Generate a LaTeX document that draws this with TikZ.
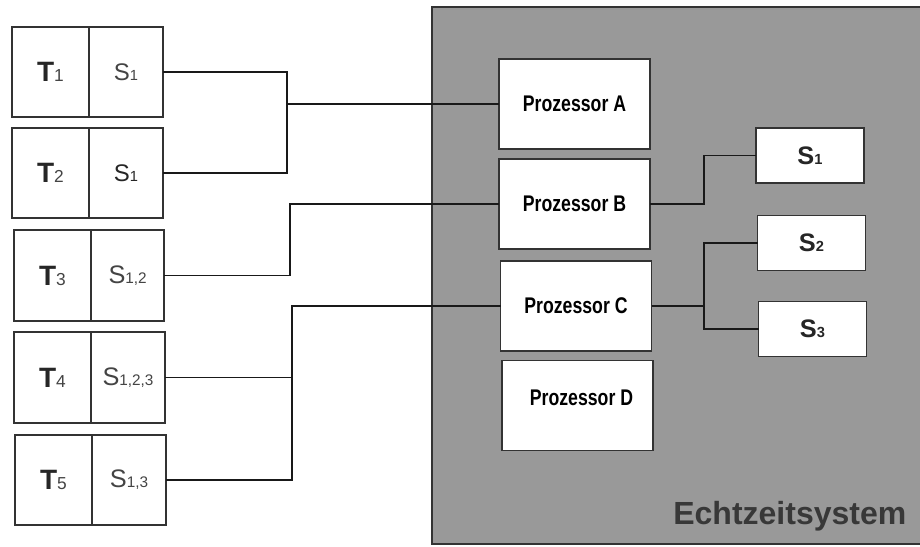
\documentclass[tikz,border=0pt]{standalone}
\usepackage{fontspec}
\setmainfont{Liberation Sans}
\newfontfamily\narrowfont[FakeStretch=0.78]{Liberation Sans}
\usetikzlibrary{positioning}

\definecolor{boxline}{HTML}{333333}
\definecolor{sysgray}{HTML}{999999}
\definecolor{labgray}{HTML}{444444}
\definecolor{sysText}{HTML}{383838}

% labels: task T_i, needed sensors S_{...}
\newcommand{\tsk}[1]{{\fontsize{21}{21}\selectfont\bfseries\color{black!85}T}{\fontsize{13}{13}\selectfont\color{labgray}#1}}
\newcommand{\req}[1]{{\fontsize{19}{19}\selectfont S}{\fontsize{11.5}{11.5}\selectfont #1}}
\newcommand{\reqs}[1]{{\fontsize{18}{18}\selectfont S}{\fontsize{11}{11}\selectfont #1}}
\newcommand{\sens}[1]{{\fontsize{19}{19}\selectfont\bfseries S}{\fontsize{11}{11}\selectfont\bfseries #1}}

\tikzset{
  cell/.style={draw=boxline, line width=1.4pt, fill=white, outer sep=0pt, inner sep=0pt,
    minimum width=57.75pt, minimum height=68pt, text=labgray},
  procbox/.style={draw=boxline, line width=1.4pt, fill=white, outer sep=0pt,
    minimum width=113.25pt, minimum height=67.5pt, font=\narrowfont\bfseries\fontsize{17}{17}\selectfont},
  sensbox/.style={draw=boxline, line width=1.4pt, fill=white, outer sep=0pt,
    minimum width=81pt, minimum height=41.25pt, text=black!85},
  wire/.style={draw=black!90, line width=1.2pt}
}

\begin{document}
\begin{tikzpicture}[x=0.75pt,y=-0.75pt]
\clip (0,0) rectangle (920,546);

% the real-time system
\draw[draw=boxline, fill=sysgray, line width=1.5pt] (432,7) rectangle (940,544);
\node [anchor=east, text=sysText, font=\bfseries\fontsize{24}{24}\selectfont] (rts) at (911,516) {Echtzeitsystem};

% tasks on the left
\node[cell] (t1) at (50.5,72) {\tsk{1}};
\node[cell, right=0pt of t1, minimum width=55.5pt] (r1) {\reqs{1}};
\node[cell] (t2) at (50.5,173) {\tsk{2}};
\node[cell, right=0pt of t2, minimum width=55.5pt, text=black!85] (r2) {\reqs{1}};
\node[cell] (t3) at (52.5,275.5) {\tsk{3}};
\node[cell, right=0pt of t3, minimum width=55pt] (r3) {\req{1,2}};
\node[cell] (t4) at (52.5,377.5) {\tsk{4}};
\node[cell, right=0pt of t4, minimum width=55.5pt] (r4) {\req{1,2,3}};
\node[cell] (t5) at (53.5,480) {\tsk{5}};
\node[cell, right=0pt of t5, minimum width=55.5pt] (r5) {\req{1,3}};

% processors
\node[procbox] (pa) at (574.5,104) {Prozessor A};
\node[procbox] (pb) at (574.5,204) {Prozessor B};
\node[procbox] (pc) at (576,306) {Prozessor C};
\node[procbox, text depth=12pt] (pd) at (577.5,405.5) {\hspace*{6pt}Prozessor D};

% sensors
\node[sensbox] (s1) at (810,155.5) {\sens{1}};
\node[sensbox] (s2) at (811.5,243) {\sens{2}};
\node[sensbox] (s3) at (812.5,329) {\sens{3}};

% junction columns
\coordinate (x1) at (287,0);
\coordinate (x2) at (290,0);
\coordinate (x3) at (292,0);
\coordinate (x4) at (704,0);

\draw[wire] (r1.east) -| (x1 |- r2.east) -- (r2.east);
\draw[wire] (x1 |- pa.west) -- (pa.west);
\draw[wire] (r3.east) -| (x2 |- pb.west) -- (pb.west);
\draw[wire] (r5.east) -| (x3 |- pc.west) -- (pc.west);
\draw[wire] (r4.east) -- (x3 |- r4.east);

\draw[wire] (pb.east) -| (x4 |- s1.west) -- (s1.west);
\draw[wire] (s2.west) -| (x4 |- s3.west) -- (s3.west);
\draw[wire] (pc.east) -- (x4 |- pc.east);

\end{tikzpicture}
\end{document}
